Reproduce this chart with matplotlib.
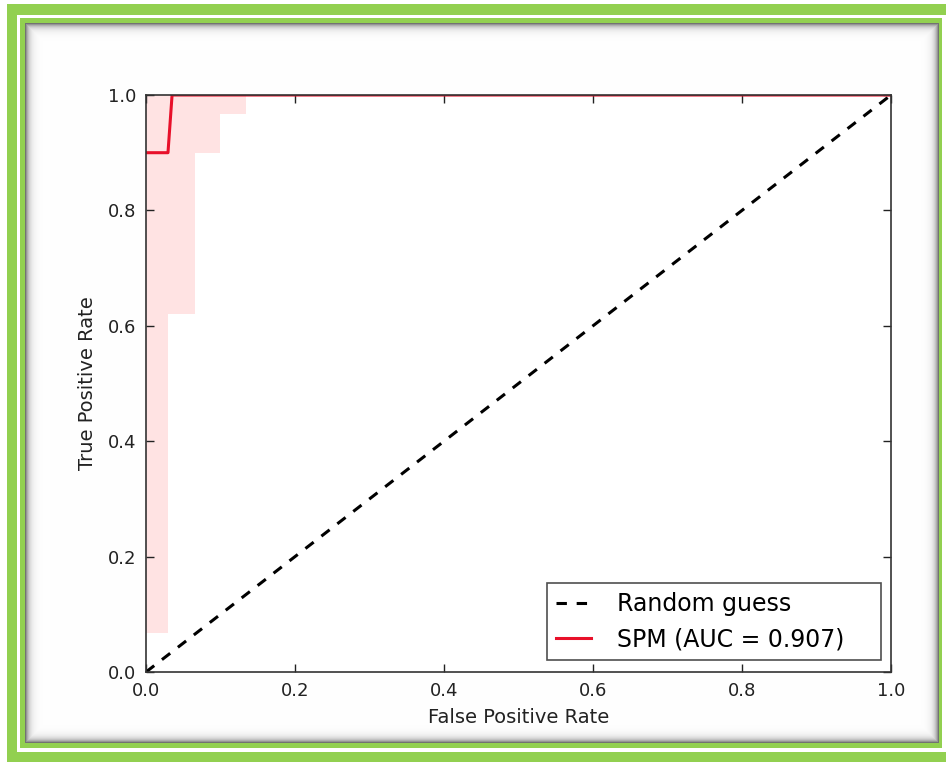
import numpy as np
import matplotlib
matplotlib.use("Agg")
import matplotlib.pyplot as plt

# ---------------- data ----------------
mean_fpr = [0.0, 0.0295, 0.035, 1.0]
mean_tpr = [0.9, 0.9, 1.0, 1.0]

band_fpr = [0.0, 0.0295, 0.066, 0.099, 0.134, 1.0]
band_lower = [0.068, 0.621, 0.899, 0.967, 1.0, 1.0]
band_upper = [1.0, 1.0, 1.0, 1.0, 1.0, 1.0]

diag_x = [0.0, 1.0]
diag_y = [0.0, 1.0]

ticks = [0.0, 0.2, 0.4, 0.6, 0.8, 1.0]
tick_labels = ["0.0", "0.2", "0.4", "0.6", "0.8", "1.0"]

auc_value = 0.907

# ---------------- figure ----------------
W, H = 946, 762
fig = plt.figure(figsize=(W / 100, H / 100), dpi=100)
fig.patch.set_facecolor("white")

# decorative frame (green borders + inset shadow)
green = np.array([146, 208, 80]) / 255.0
img = np.ones((H, W, 3))
img[4:H, 7:W] = green
img[15:752, 17:W] = 1.0
img[18:748, 20:942] = green
p_top, p_bot, p_left, p_right = 23, 743, 25, 939
img[p_top:p_bot, p_left:p_right] = 1.0
yy, xx = np.mgrid[p_top:p_bot, p_left:p_right]
d = np.minimum.reduce([yy - p_top, p_bot - 1 - yy, xx - p_left, p_right - 1 - xx]).astype(float)
shade = 0.55 * np.exp(-d / 3.5)
img[p_top:p_bot, p_left:p_right] = (1.0 - shade)[..., None]
fig.figimage(img, xo=0, yo=0, origin="upper", zorder=-10)

ax = fig.add_axes([146 / W, 1 - 672 / H, (891 - 146) / W, (672 - 95) / H])
ax.set_facecolor("white")

ax.fill_between(band_fpr, band_lower, band_upper, step="post",
                color="red", alpha=0.11, linewidth=0)
ax.plot(diag_x, diag_y, color="black", linestyle="--", lw=2.2,
        dashes=(3.4, 3.2), label="Random guess")
ax.plot(mean_fpr, mean_tpr, color="#e8102a", lw=2.2,
        label="SPM (AUC = %0.3f)" % auc_value)

ax.set_xlim(0, 1)
ax.set_ylim(0, 1)
ax.set_xticks(ticks)
ax.set_xticklabels(tick_labels)
ax.set_yticks(ticks)
ax.set_yticklabels(tick_labels)
ax.tick_params(direction="in", length=6, width=1, top=True, right=True,
               labelsize=13, pad=7, colors="#222222")
for s in ax.spines.values():
    s.set_color("#333333")
    s.set_linewidth(1.2)

ax.set_xlabel("False Positive Rate", fontsize=14, color="#222222", labelpad=6)
ax.set_ylabel("True Positive Rate", fontsize=14, color="#222222", labelpad=8)

leg = ax.legend(loc="lower left", bbox_to_anchor=(0.538, 0.0208, 0.4486, 0.13),
                mode="expand", fontsize=17, frameon=True, fancybox=False,
                handlelength=1.5, handletextpad=1.1, labelspacing=0.47,
                borderpad=0.38, borderaxespad=0.0)
leg.get_frame().set_edgecolor("#222222")
leg.get_frame().set_linewidth(1.2)

fig.savefig("out.png", dpi=100)
